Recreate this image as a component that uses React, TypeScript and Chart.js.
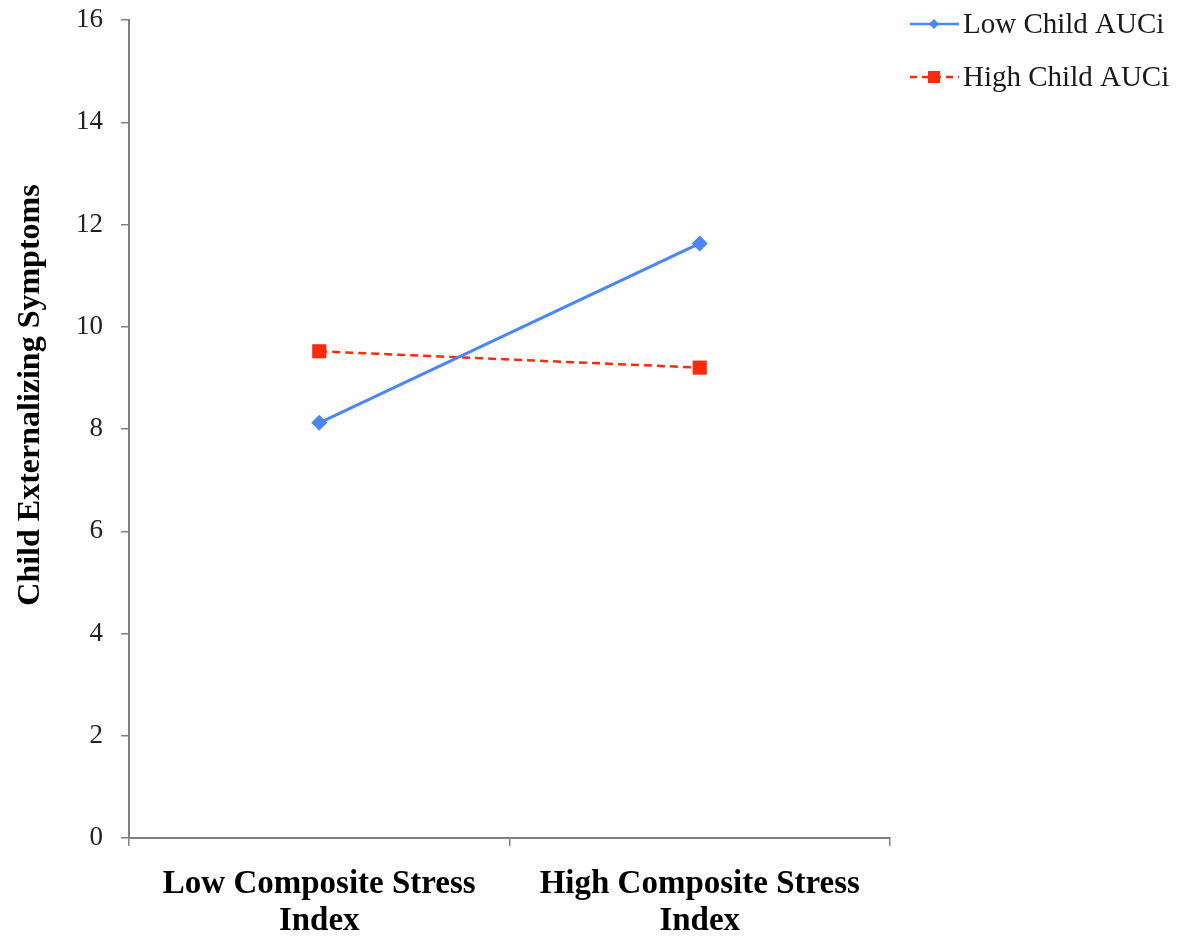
import React, { useEffect, useRef } from "react";
import { Chart, registerables } from "chart.js";

Chart.register(...registerables);

const categories: string[][] = [
  ["Low Composite Stress", "Index"],
  ["High Composite Stress", "Index"],
];
const lowChildAUCi: number[] = [8.12, 11.63];
const highChildAUCi: number[] = [9.52, 9.2];
const seriesNames: string[] = ["Low Child AUCi", "High Child AUCi"];
const yAxisTitle = "Child Externalizing Symptoms";

const BLUE = "#4a86f5";
const RED = "#ff2a0a";
const AXIS = "#808080";
const FONT = "'Liberation Serif', 'Times New Roman', serif";

// Draws the y-axis title and the legend to the right of the plot
const extras = {
  id: "extras",
  afterDraw(chart: any) {
    const ctx = chart.ctx as CanvasRenderingContext2D;
    ctx.save();
    // y-axis title
    ctx.translate(31, 395);
    ctx.rotate(-Math.PI / 2);
    ctx.fillStyle = "#000";
    ctx.font = `bold 32px ${FONT}`;
    ctx.textAlign = "center";
    ctx.textBaseline = "middle";
    ctx.fillText(yAxisTitle, 0, 0);
    ctx.restore();

    // legend
    const entries = [
      { y: 24, color: BLUE, dash: [] as number[], marker: "diamond" },
      { y: 77, color: RED, dash: [7, 5], marker: "square" },
    ];
    entries.forEach((e, i) => {
      ctx.save();
      ctx.strokeStyle = e.color;
      ctx.lineWidth = 2.5;
      ctx.setLineDash(e.dash);
      ctx.beginPath();
      ctx.moveTo(910, e.y);
      ctx.lineTo(959, e.y);
      ctx.stroke();
      ctx.setLineDash([]);
      ctx.fillStyle = e.color;
      if (e.marker === "diamond") {
        ctx.beginPath();
        ctx.moveTo(934, e.y - 5);
        ctx.lineTo(939, e.y);
        ctx.lineTo(934, e.y + 5);
        ctx.lineTo(929, e.y);
        ctx.closePath();
        ctx.fill();
      } else {
        ctx.fillRect(928, e.y - 6, 12, 12);
      }
      ctx.fillStyle = "#1a1a1a";
      ctx.font = `29px ${FONT}`;
      ctx.textAlign = "left";
      ctx.textBaseline = "middle";
      ctx.fillText(seriesNames[i], 963, e.y + 1);
      ctx.restore();
    });
  },
};

export default function App() {
  const canvasRef = useRef<HTMLCanvasElement | null>(null);

  useEffect(() => {
    if (!canvasRef.current) return;
    const chart = new Chart(canvasRef.current, {
      type: "line",
      data: {
        labels: categories,
        datasets: [
          {
            label: seriesNames[0],
            data: lowChildAUCi,
            borderColor: BLUE,
            backgroundColor: BLUE,
            borderWidth: 3,
            pointStyle: "rectRot",
            pointRadius: 8,
            pointBorderWidth: 0,
            tension: 0,
          },
          {
            label: seriesNames[1],
            data: highChildAUCi,
            borderColor: RED,
            backgroundColor: RED,
            borderWidth: 2.5,
            borderDash: [8, 5],
            pointStyle: "rect",
            pointRadius: 10,
            pointBorderWidth: 0,
            tension: 0,
          },
        ],
      },
      options: {
        animation: false,
        responsive: false,
        layout: { padding: { top: 20, right: 297, left: 0, bottom: 0 } },
        plugins: {
          legend: { display: false },
          tooltip: { enabled: false },
        },
        scales: {
          x: {
            type: "category",
            offset: true,
            grid: {
              offset: true,
              drawOnChartArea: false,
              drawTicks: true,
              tickLength: 8,
              color: AXIS,
              lineWidth: 1.5,
            },
            border: { color: AXIS, width: 2 },
            ticks: {
              color: "#000",
              font: { family: FONT, size: 33, weight: "bold", lineHeight: 1.12 },
              padding: 20,
              maxRotation: 0,
              autoSkip: false,
            },
            afterFit(scale: any) {
              scale.height = 101;
            },
          },
          y: {
            min: 0,
            max: 16,
            ticks: {
              stepSize: 2,
              color: "#222",
              font: { family: FONT, size: 27 },
              padding: 18,
            },
            grid: {
              drawOnChartArea: false,
              drawTicks: true,
              tickLength: 8,
              color: AXIS,
              lineWidth: 1.5,
            },
            border: { color: AXIS, width: 2 },
            afterFit(scale: any) {
              scale.width = 129;
              scale.paddingTop = 0;
              scale.paddingBottom = 0;
            },
          },
        },
      },
      plugins: [extras],
    });
    return () => chart.destroy();
  }, []);

  return (
    <div style={{ position: "fixed", left: 0, top: 0, width: 1187, height: 939, background: "#fff" }}>
      <canvas ref={canvasRef} width={1187} height={939} />
    </div>
  );
}
